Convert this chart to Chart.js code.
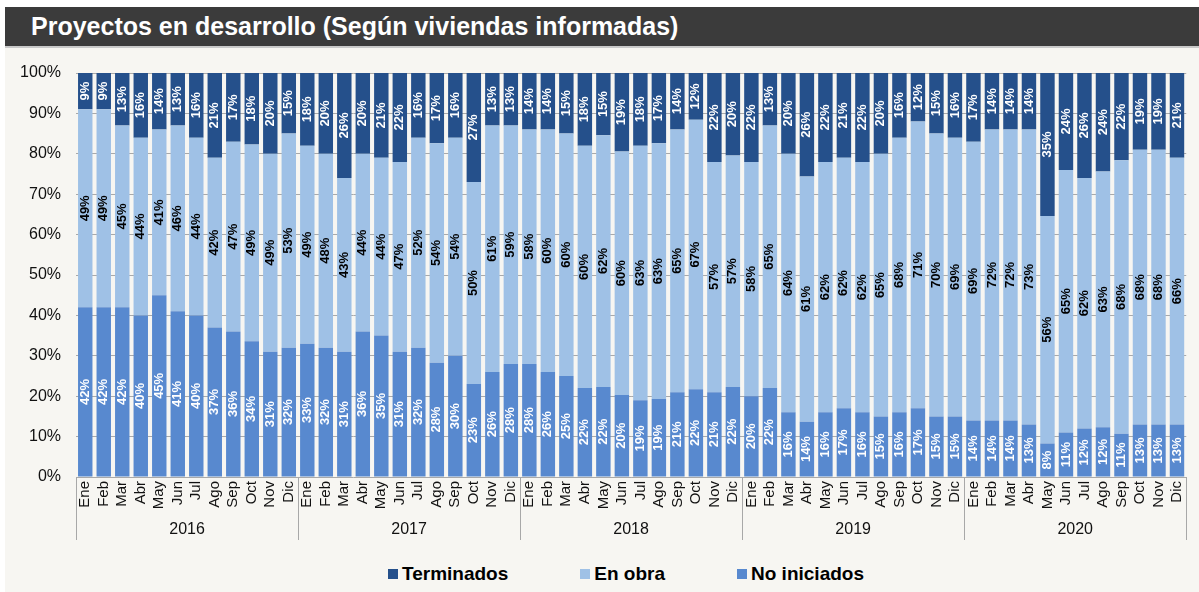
<!DOCTYPE html>
<html>
<head>
<meta charset="utf-8">
<script src="https://cdn.jsdelivr.net/npm/chart.js@4.4.1/dist/chart.umd.min.js"></script>
<style>
  html, body { margin:0; padding:0; background:#ffffff; }
  body { width:1199px; height:592px; position:relative; overflow:hidden; font-family:"Liberation Sans", Arial, sans-serif; }
  #title { position:absolute; left:5px; top:7px; width:1194px; height:39px; background:#3b3b3b; color:#fff;
           font-weight:bold; font-size:25px; line-height:39px; box-sizing:border-box; padding-left:26px; }
  #rule { position:absolute; left:5px; top:46px; width:1194px; height:2px; background:#c9c9c9; }
  #panel { position:absolute; left:5px; top:48px; width:1194px; height:544px; background:#f7f6f2; }
  #wrap { position:absolute; left:5px; top:48px; width:1194px; height:500px; }
  #legend { position:absolute; top:563px; left:388px; display:flex; align-items:center; font-weight:bold; font-size:19px; color:#000; }
  .item { display:flex; align-items:center; margin-right:72px; }
  .sw { width:10px; height:10px; margin-right:4px; }
</style>
</head>
<body>
<div id="title">Proyectos en desarrollo (Según viviendas informadas)</div>
<div id="rule"></div>
<div id="panel"></div>
<div id="wrap"><canvas id="c" width="1194" height="500"></canvas></div>
<div id="legend"></div>
<script>
const months = ['Ene','Feb','Mar','Abr','May','Jun','Jul','Ago','Sep','Oct','Nov','Dic'];
const years = ['2016','2017','2018','2019','2020'];
const yTicks = [0,10,20,30,40,50,60,70,80,90,100];

const noIniciados = [
  42,42,42,40,45,41,40,37,36,33.6,31,32,
  33,32,31,36,35,31,32,28.3,30,23,26,28,
  28,26,25,22,22.3,20.3,19,19.3,21,21.7,21,22.3,
  20,22,16,13.7,16,17,16,15,16,17,15,15,
  14,14,14,13,8.3,11,12,12.3,10.7,13,13,13
];
const enObra = [
  49,49,45,44,41,46,44,42,47,48.7,49,53,
  49,48,43,44,44,47,52,54.3,54,50,61,59,
  58,60,60,60,62.3,60.3,63,63.3,65,66.7,57,57.3,
  58,65,64,60.7,62,62,62,65,68,71,70,69,
  69,72,72,73,56.3,65,62,63.3,67.7,68,68,66
];
const terminados = [
  9,9,13,16,14,13,16,21,17,17.7,20,15,
  18,20,26,20,21,22,16,17.4,16,27,13,13,
  14,14,15,18,15.4,19.4,18,17.4,14,11.6,22,20.4,
  22,13,20,25.6,22,21,22,20,16,12,15,16,
  17,14,14,14,35.4,24,26,24.4,21.6,19,19,21
];

const categories = [];
years.forEach(y => months.forEach(m => categories.push(m)));

const FONT = '"Liberation Sans", Arial, sans-serif';
const colT = '#25508b', colE = '#9fc1e6', colN = '#5889cf';

const segLabels = {
  id: 'segLabels',
  afterDatasetsDraw(chart) {
    const ctx = chart.ctx;
    chart.data.datasets.forEach((ds, di) => {
      const meta = chart.getDatasetMeta(di);
      if (meta.hidden) return;
      meta.data.forEach((el, i) => {
        const v = ds.data[i];
        const cy = (el.y + el.base) / 2;
        ctx.save();
        ctx.translate(el.x, cy);
        ctx.rotate(-Math.PI / 2);
        ctx.font = 'bold 13px ' + FONT;
        ctx.fillStyle = ds.labelColor;
        ctx.textAlign = 'center';
        ctx.textBaseline = 'middle';
        ctx.fillText(Math.round(v) + '%', 0, 0);
        ctx.restore();
      });
    });
  }
};

const yearAxis = {
  id: 'yearAxis',
  afterDraw(chart) {
    const ctx = chart.ctx, x = chart.scales.x, ca = chart.chartArea;
    const half = (x.getPixelForValue(1) - x.getPixelForValue(0)) / 2;
    const bounds = [];
    for (let k = 0; k < years.length; k++) bounds.push(x.getPixelForValue(k * months.length) - half);
    bounds.push(x.getPixelForValue(categories.length - 1) + half);
    ctx.save();
    ctx.strokeStyle = '#a8a8a8';
    ctx.lineWidth = 1;
    bounds.forEach(b => {
      const px = Math.round(b) + 0.5;
      ctx.beginPath(); ctx.moveTo(px, ca.bottom); ctx.lineTo(px, x.bottom); ctx.stroke();
    });
    ctx.fillStyle = '#111';
    ctx.font = '16px ' + FONT;
    ctx.textAlign = 'center';
    ctx.textBaseline = 'middle';
    years.forEach((y, k) => ctx.fillText(y, (bounds[k] + bounds[k + 1]) / 2, x.bottom - 10));
    ctx.restore();
  }
};

new Chart(document.getElementById('c'), {
  type: 'bar',
  data: {
    labels: categories,
    datasets: [
      { label: 'No iniciados', data: noIniciados, backgroundColor: colN, labelColor: '#ffffff' },
      { label: 'En obra', data: enObra, backgroundColor: colE, labelColor: '#000000' },
      { label: 'Terminados', data: terminados, backgroundColor: colT, labelColor: '#ffffff' }
    ]
  },
  options: {
    responsive: false,
    animation: false,
    events: [],
    layout: { padding: { top: 25, right: 2, left: 0, bottom: 8 } },
    datasets: { bar: { barPercentage: 0.78, categoryPercentage: 1.0 } },
    plugins: { legend: { display: false }, tooltip: { enabled: false } },
    scales: {
      x: {
        stacked: true,
        grid: { display: false, drawTicks: false },
        border: { display: false },
        ticks: { autoSkip: false, maxRotation: 90, minRotation: 90, padding: 4, color: '#111', font: { family: FONT, size: 15 } },
        afterFit(s) { s.height = 63; }
      },
      y: {
        stacked: true,
        min: 0, max: 100,
        afterBuildTicks(s) { s.ticks = yTicks.map(v => ({ value: v })); },
        grid: { color: '#a9a9a9', lineWidth: 1, drawTicks: false },
        border: { display: false },
        ticks: { padding: 15, color: '#111', font: { family: FONT, size: 16 }, callback: v => v + '%' },
        afterFit(s) { s.width = 71; }
      }
    }
  },
  plugins: [segLabels, yearAxis]
});

const legendItems = [['Terminados', colT], ['En obra', colE], ['No iniciados', colN]];
const lg = document.getElementById('legend');
legendItems.forEach(([t, c]) => {
  const it = document.createElement('div'); it.className = 'item';
  const sw = document.createElement('div'); sw.className = 'sw'; sw.style.background = c;
  const tx = document.createElement('span'); tx.textContent = t;
  it.appendChild(sw); it.appendChild(tx); lg.appendChild(it);
});
</script>
</body>
</html>
